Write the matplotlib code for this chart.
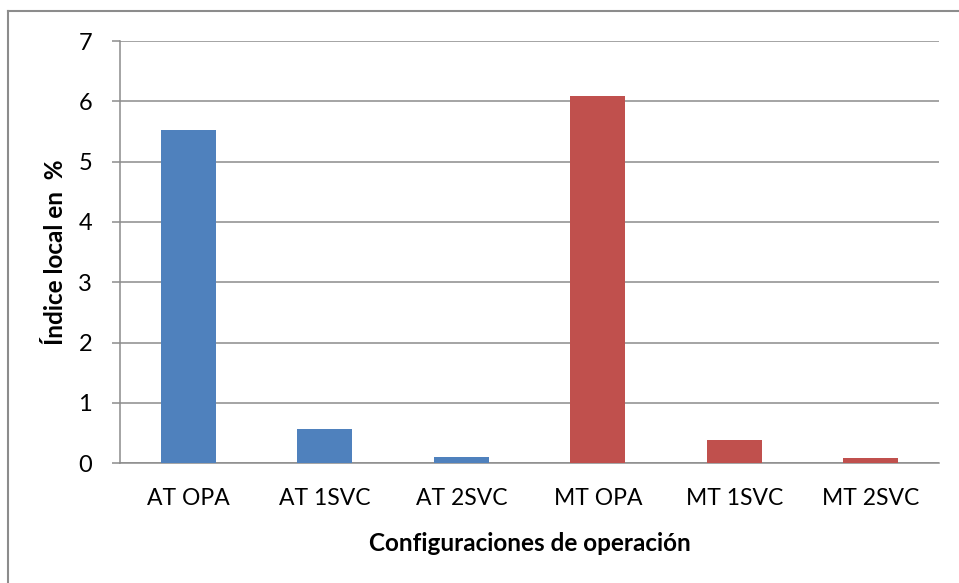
#!/usr/bin/env python3

"""Indice local por configuracion de operacion (bar chart)."""

import matplotlib.pyplot as plt
from matplotlib.lines import Line2D

plt.rcParams["font.family"] = ["Lato", "DejaVu Sans"]

configs = ["AT OPA", "AT 1SVC", "AT 2SVC", "MT OPA", "MT 1SVC", "MT 2SVC"]
indice = [5.52, 0.57, 0.10, 6.09, 0.39, 0.09]
colores = ["#4F81BD", "#4F81BD", "#4F81BD", "#C0504D", "#C0504D", "#C0504D"]
yticks = [0, 1, 2, 3, 4, 5, 6, 7]

fig = plt.figure(figsize=(9.59, 5.83), dpi=100)
ax = fig.add_axes([120 / 959, 1 - 463.3 / 583, 819 / 959, (463.3 - 41) / 583])

ax.bar(range(len(configs)), indice, width=0.4, color=colores, zorder=3)
ax.set_xlim(-0.5, len(configs) - 0.5)
ax.set_ylim(0, 7)
ax.set_yticks(yticks)
ax.set_xticks(range(len(configs)))
ax.set_xticklabels(configs)

grid_c = "#8c8c8c"
ax.yaxis.grid(True, color=grid_c, linewidth=1.1, zorder=0)
for s in ["top", "right"]:
    ax.spines[s].set_visible(False)
ax.spines["left"].set_color(grid_c)
ax.spines["bottom"].set_color(grid_c)
ax.spines["left"].set_linewidth(1.1)
ax.spines["bottom"].set_linewidth(1.1)
ax.tick_params(axis="y", length=6, color=grid_c, width=1.1, pad=14, labelsize=17)
ax.tick_params(axis="x", length=0, pad=18, labelsize=16.5)

ax.set_xlabel("Configuraciones de operación", fontsize=17.5, fontweight="bold", labelpad=16)
ax.set_ylabel("Índice local en  %", fontsize=17.5, fontweight="bold", labelpad=8)

# chart frame (only left and top edges visible)
fig.add_artist(Line2D([8 / 959, 8 / 959], [0, 1 - 11 / 583], color="#8c8c8c", lw=1.5))
fig.add_artist(Line2D([8 / 959, 1], [1 - 11 / 583, 1 - 11 / 583], color="#8c8c8c", lw=1.5))

plt.savefig("out.png", dpi=100)
